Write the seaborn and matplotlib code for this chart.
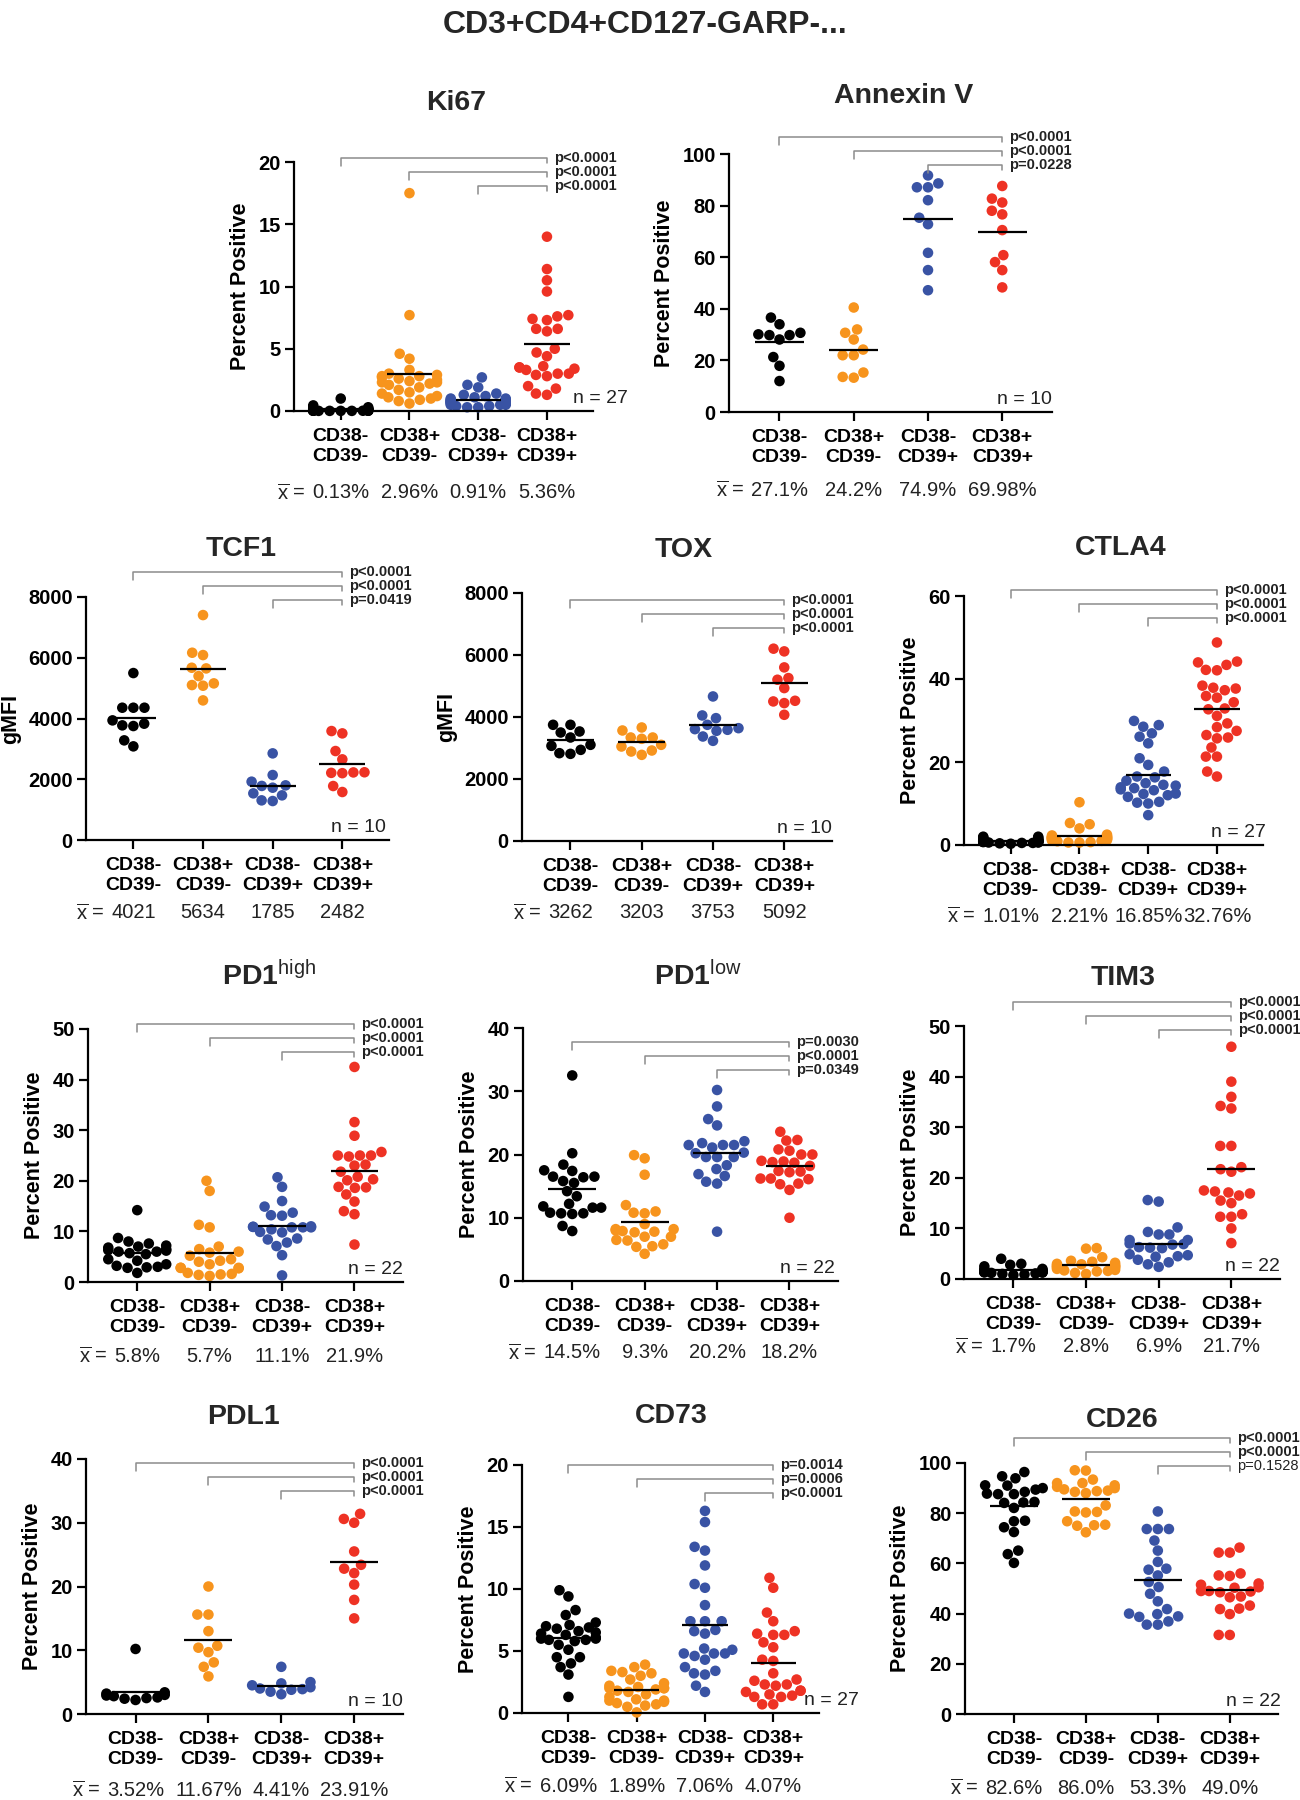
import warnings
import numpy as np
import pandas as pd
import matplotlib
matplotlib.use("Agg")
import matplotlib.pyplot as plt
import seaborn as sns

warnings.filterwarnings("ignore")

# categories and colours
groups = ["CD38-\nCD39-", "CD38+\nCD39-", "CD38-\nCD39+", "CD38+\nCD39+"]
colors = ["#000000", "#F7941D", "#3953A4", "#EE3224"]

# per-donor values (nn = CD38-CD39-, pn = CD38+CD39-, np = CD38-CD39+, pp = CD38+CD39+)
ki67_nn = [1.0, 0.45, 0.3, 0.25, 0.2, 0.2, 0.15, 0.15, 0.1, 0.1, 0.1, 0.1, 0.08, 0.05, 0.05, 0.05,
           0.05, 0.03, 0.03, 0.03, 0.02, 0.02, 0.02, 0.01, 0.01, 0.01, 0.01]
ki67_pn = [17.5, 7.7, 4.6, 4.2, 3.3, 3.0, 2.9, 2.8, 2.8, 2.7, 2.6, 2.5, 2.4, 2.3, 2.2, 2.3, 2.1,
           1.9, 1.7, 1.5, 1.4, 1.2, 1.1, 1.0, 0.9, 0.8, 0.6]
ki67_np = [2.7, 2.1, 1.9, 1.4, 1.3, 1.2, 1.1, 1.0, 1.0, 0.9, 0.9, 0.8, 0.8, 0.8, 0.7, 0.7, 0.7,
           0.6, 0.6, 0.6, 0.5, 0.5, 0.5, 0.4, 0.4, 0.3, 0.3]
ki67_pp = [14.0, 11.4, 10.5, 9.6, 7.7, 7.6, 7.4, 7.3, 6.6, 6.6, 6.4, 5.0, 4.7, 4.4, 3.6, 3.5, 3.5,
           3.4, 3.3, 3.0, 3.0, 2.9, 2.8, 2.0, 1.8, 1.4, 1.3]

anx_nn = [36.6, 34.0, 30.7, 29.8, 29.8, 30.1, 28.1, 21.3, 17.9, 12.0]
anx_pn = [40.5, 32.0, 30.7, 28.1, 24.2, 22.0, 22.0, 15.3, 13.6, 13.3]
anx_np = [91.7, 88.6, 87.1, 87.1, 82.1, 75.3, 72.8, 61.7, 55.0, 47.2]
anx_pp = [87.6, 82.7, 81.2, 78.0, 76.6, 70.5, 60.8, 58.1, 55.0, 48.3]

tcf1_nn = [5496, 4355, 4355, 4355, 3938, 3752, 3774, 3829, 3280, 3083]
tcf1_pn = [7405, 6165, 6088, 5671, 5649, 5397, 5156, 5101, 5079, 4596]
tcf1_np = [2852, 2139, 1920, 1722, 1799, 1780, 1536, 1470, 1305, 1283]
tcf1_pp = [3587, 3510, 2929, 2655, 2230, 2210, 2200, 2225, 1777, 1580]

tox_nn = [3748, 3748, 3500, 3533, 3339, 3102, 3070, 2940, 2833, 2811]
tox_pn = [3662, 3565, 3339, 3296, 3339, 3102, 3048, 2886, 2919, 2779]
tox_np = [4663, 3963, 4050, 3748, 3640, 3587, 3608, 3554, 3371, 3231]
tox_pp = [6117, 6204, 5600, 5256, 5202, 4933, 4523, 4448, 4502, 4071]

ctla4_nn = [2.0, 2.0, 1.8, 1.7, 1.5, 1.4, 1.3, 1.2, 1.2, 1.1, 1.1, 1.0, 1.0, 0.9, 0.9, 0.9, 0.8,
            0.8, 0.8, 0.7, 0.7, 0.6, 0.6, 0.5, 0.5, 0.4, 0.3]
ctla4_pn = [10.3, 5.3, 5.0, 4.0, 2.5, 2.3, 2.2, 2.0, 2.0, 1.9, 1.8, 1.7, 1.6, 1.5, 1.9, 1.8, 1.6,
            1.5, 1.4, 1.3, 1.2, 1.1, 1.0, 0.9, 0.7, 0.6, 0.6]
ctla4_np = [29.9, 28.9, 28.5, 26.9, 26.1, 24.5, 20.9, 19.3, 17.7, 16.5, 16.3, 15.5, 14.9, 14.5,
            14.3, 13.9, 13.7, 13.4, 13.2, 12.4, 12.3, 12.0, 11.6, 10.4, 10.2, 10.0, 7.2]
ctla4_pp = [48.8, 44.2, 44.0, 43.4, 42.2, 42.1, 38.4, 37.9, 37.7, 37.3, 35.5, 35.9, 34.4, 32.7,
            32.9, 31.1, 29.3, 28.4, 27.5, 26.5, 25.9, 25.7, 23.5, 21.3, 21.3, 17.7, 16.5]

pd1h_nn = [14.2, 8.7, 8.0, 7.6, 7.2, 7.0, 6.8, 6.3, 6.5, 6.2, 6.0, 6.0, 5.7, 5.5, 4.5, 4.2, 3.5,
           3.2, 3.0, 2.9, 2.8, 1.8]
pd1h_pn = [20.0, 18.0, 11.3, 10.8, 7.0, 6.5, 6.0, 5.8, 5.2, 4.5, 4.2, 4.0, 3.5, 2.8, 2.8, 2.8,
           2.7, 1.8, 1.6, 1.5, 1.4, 1.2]
pd1h_np = [20.7, 18.8, 16.0, 14.9, 13.7, 13.2, 13.1, 10.9, 10.8, 10.8, 11.0, 10.9, 10.8, 10.4,
           9.9, 9.8, 8.6, 8.4, 7.8, 7.1, 5.3, 1.3]
pd1h_pp = [42.5, 31.6, 28.9, 25.7, 25.0, 25.0, 24.8, 25.0, 23.2, 23.0, 21.8, 20.3, 20.8, 20.1,
           18.8, 18.6, 18.7, 17.3, 15.9, 14.0, 13.4, 7.4]

pd1l_nn = [32.5, 20.2, 18.4, 17.5, 17.4, 16.5, 16.4, 16.5, 15.8, 15.5, 14.2, 13.4, 12.2, 11.8,
           11.6, 11.6, 10.8, 10.7, 10.6, 10.7, 8.7, 7.9]
pd1l_pn = [19.9, 19.4, 16.8, 12.0, 11.0, 10.7, 10.8, 9.0, 8.2, 8.2, 8.0, 7.9, 7.8, 7.7, 7.0, 7.0,
           6.5, 6.4, 5.8, 5.5, 5.4, 4.3]
pd1l_np = [30.2, 27.6, 25.6, 24.6, 22.1, 21.8, 21.5, 21.5, 21.5, 21.1, 20.2, 20.3, 19.6, 19.6,
           19.6, 18.3, 17.7, 16.9, 16.6, 15.7, 15.4, 7.8]
pd1l_pp = [23.6, 22.3, 22.2, 20.6, 20.8, 20.0, 20.0, 19.0, 18.9, 18.8, 18.7, 18.2, 17.3, 17.4,
           17.2, 16.2, 16.2, 16.1, 15.4, 15.3, 14.4, 10.0]

tim3_nn = [4.0, 3.0, 2.8, 2.5, 2.0, 1.9, 1.8, 1.7, 1.6, 1.5, 1.5, 1.4, 1.4, 1.4, 1.3, 1.3, 1.3,
           1.2, 1.1, 1.0, 0.9, 0.8]
tim3_pn = [6.1, 6.0, 4.3, 3.6, 3.4, 3.2, 3.0, 2.9, 2.8, 2.7, 2.6, 2.5, 2.4, 2.3, 2.2, 2.0, 1.8,
           1.7, 1.6, 1.5, 1.2, 1.0]
tim3_np = [15.6, 15.3, 10.2, 9.3, 8.8, 8.8, 7.7, 7.7, 7.0, 6.9, 6.8, 6.2, 6.3, 6.1, 4.7, 4.4,
           4.5, 4.9, 3.8, 3.3, 2.9, 2.4]
tim3_pp = [45.9, 39.0, 36.0, 34.2, 33.7, 26.3, 26.3, 22.1, 21.7, 21.2, 17.5, 17.3, 17.1, 16.9,
           16.5, 15.5, 15.0, 12.8, 12.3, 12.3, 10.0, 7.1]

pdl1_nn = [10.2, 3.4, 3.2, 3.0, 2.9, 2.8, 2.6, 2.4, 2.2, 2.5]
pdl1_pn = [20.0, 15.6, 15.6, 13.0, 10.7, 10.4, 9.7, 8.1, 7.4, 5.9]
pdl1_np = [7.4, 5.0, 4.8, 4.5, 4.2, 4.0, 3.9, 3.8, 3.5, 3.1]
pdl1_pp = [31.4, 30.6, 30.0, 25.5, 23.4, 22.8, 22.1, 20.3, 17.9, 15.0]

cd73_nn = [9.9, 9.4, 8.3, 7.9, 7.3, 7.1, 7.0, 6.9, 6.8, 6.6, 6.5, 6.4, 6.3, 6.1, 6.0, 6.0, 5.9,
           5.9, 5.8, 5.5, 5.1, 4.5, 4.5, 4.0, 3.7, 3.1, 1.3]
cd73_pn = [3.9, 3.7, 3.4, 3.3, 3.2, 3.0, 2.7, 2.4, 2.2, 2.1, 2.0, 2.0, 1.9, 1.8, 1.7, 2.0, 1.5,
           1.3, 1.1, 1.0, 1.0, 0.9, 0.8, 0.7, 0.6, 0.5, 0.05]
cd73_np = [16.3, 15.4, 13.4, 13.1, 11.9, 10.4, 10.1, 8.7, 7.4, 7.4, 7.4, 6.7, 6.4, 6.6, 5.2, 5.1,
           4.8, 4.8, 4.8, 4.6, 4.3, 3.7, 3.4, 3.2, 3.1, 2.2, 1.7]
cd73_pp = [10.9, 10.1, 8.1, 7.4, 6.6, 6.4, 6.3, 6.3, 5.7, 5.3, 4.3, 4.2, 3.2, 2.7, 2.6, 2.3, 2.3,
           2.2, 1.8, 1.8, 1.7, 1.5, 1.4, 1.3, 1.3, 0.7, 0.7]

cd26_nn = [96.4, 94.7, 93.9, 91.1, 91.0, 90.0, 89.4, 88.5, 87.8, 87.6, 87.6, 84.5, 84.3, 84.1,
           82.1, 77.0, 76.8, 74.4, 72.5, 65.1, 63.7, 60.2]
cd26_pn = [97.1, 97.0, 93.4, 92.0, 92.0, 91.1, 90.5, 90.0, 89.5, 89.0, 88.8, 88.5, 88.0, 83.1,
           80.7, 80.5, 80.3, 76.8, 75.4, 75.2, 75.0, 72.4]
cd26_np = [80.7, 73.7, 73.7, 73.7, 69.1, 65.1, 60.6, 57.9, 57.5, 55.2, 52.6, 50.6, 47.9, 44.9,
           41.8, 40.0, 39.8, 38.9, 38.7, 36.9, 35.6, 35.6]
cd26_pp = [66.3, 64.3, 64.3, 56.0, 55.2, 55.0, 51.5, 52.0, 50.3, 50.5, 49.0, 49.0, 48.8, 48.5,
           46.8, 46.5, 43.2, 42.0, 41.8, 39.8, 31.5, 31.5]

# panel texts
titles = ["Ki67", "Annexin V", "TCF1", "TOX", "CTLA4", r"PD1$^{\mathrm{high}}$",
          r"PD1$^{\mathrm{low}}$", "TIM3", "PDL1", "CD73", "CD26"]
ylabels = ["Percent Positive", "Percent Positive", "gMFI", "gMFI", "Percent Positive",
           "Percent Positive", "Percent Positive", "Percent Positive", "Percent Positive",
           "Percent Positive", "Percent Positive"]
ymax = [20, 100, 8000, 8000, 60, 50, 40, 50, 40, 20, 100]
ystep = [5, 20, 2000, 2000, 20, 10, 10, 10, 10, 5, 20]
n_donors = [27, 10, 10, 10, 27, 22, 22, 22, 10, 27, 22]
pvals = [["p<0.0001", "p<0.0001", "p<0.0001"],
         ["p<0.0001", "p<0.0001", "p=0.0228"],
         ["p<0.0001", "p<0.0001", "p=0.0419"],
         ["p<0.0001", "p<0.0001", "p<0.0001"],
         ["p<0.0001", "p<0.0001", "p<0.0001"],
         ["p<0.0001", "p<0.0001", "p<0.0001"],
         ["p=0.0030", "p<0.0001", "p=0.0349"],
         ["p<0.0001", "p<0.0001", "p<0.0001"],
         ["p<0.0001", "p<0.0001", "p<0.0001"],
         ["p=0.0014", "p=0.0006", "p<0.0001"],
         ["p<0.0001", "p<0.0001", "p=0.1528"]]
mean_labels = [["0.13%", "2.96%", "0.91%", "5.36%"],
               ["27.1%", "24.2%", "74.9%", "69.98%"],
               ["4021", "5634", "1785", "2482"],
               ["3262", "3203", "3753", "5092"],
               ["1.01%", "2.21%", "16.85%", "32.76%"],
               ["5.8%", "5.7%", "11.1%", "21.9%"],
               ["14.5%", "9.3%", "20.2%", "18.2%"],
               ["1.7%", "2.8%", "6.9%", "21.7%"],
               ["3.52%", "11.67%", "4.41%", "23.91%"],
               ["6.09%", "1.89%", "7.06%", "4.07%"],
               ["82.6%", "86.0%", "53.3%", "49.0%"]]

panel_data = [[ki67_nn, ki67_pn, ki67_np, ki67_pp],
              [anx_nn, anx_pn, anx_np, anx_pp],
              [tcf1_nn, tcf1_pn, tcf1_np, tcf1_pp],
              [tox_nn, tox_pn, tox_np, tox_pp],
              [ctla4_nn, ctla4_pn, ctla4_np, ctla4_pp],
              [pd1h_nn, pd1h_pn, pd1h_np, pd1h_pp],
              [pd1l_nn, pd1l_pn, pd1l_np, pd1l_pp],
              [tim3_nn, tim3_pn, tim3_np, tim3_pp],
              [pdl1_nn, pdl1_pn, pdl1_np, pdl1_pp],
              [cd73_nn, cd73_pn, cd73_np, cd73_pp],
              [cd26_nn, cd26_pn, cd26_np, cd26_pp]]

# layout in output pixels: axes box (left, top, right, bottom), title anchor, bracket top, n label x
W, H = 1300, 1800
boxes = [(294, 162, 593, 411), (729, 154, 1052, 412),
         (86, 597, 389, 840), (522, 593, 832, 841), (964, 596, 1263, 845),
         (88, 1029, 403, 1282), (523, 1028, 838, 1281), (964, 1026, 1280, 1279),
         (86, 1459, 403, 1714), (522, 1465, 819, 1713), (965, 1463, 1278, 1714)]
title_xy = [(456, 110), (904, 103), (241, 556), (684, 557), (1121, 555), (269, 985),
            (698, 985), (1123, 985), (243, 1424), (671, 1423), (1122, 1427)]
bracket_px = [158, 137, 572, 600, 590, 1024, 1042, 1002, 1463, 1465, 1438]
n_x = [1.117, 1.0, 0.99, 1.0, 1.01, 1.0, 0.99, 1.0, 1.0, 1.135, 1.01]
mean_off = [82, 78, 73, 72, 71, 74, 72, 68, 76, 73, 74]

sns.set_style("ticks")
plt.rcParams["font.family"] = ["Liberation Sans", "DejaVu Sans"]
plt.rcParams["mathtext.fontset"] = "custom"
plt.rcParams["mathtext.rm"] = "Liberation Sans"
plt.rcParams["mathtext.it"] = "Liberation Sans:italic"
plt.rcParams["mathtext.bf"] = "Liberation Sans:bold"

fig = plt.figure(figsize=(13, 18), dpi=100)
fig.text(645 / W, 1 - 33 / H, "CD3+CD4+CD127-GARP-...", ha="center", va="baseline",
         fontsize=23, fontweight="bold")

text_jobs = []
for k in range(len(titles)):
    l, t, r, b = boxes[k]
    hpx = b - t
    ax = fig.add_axes([l / W, 1 - b / H, (r - l) / W, hpx / H])
    values = panel_data[k]
    df = pd.DataFrame({"group": np.repeat(groups, [len(v) for v in values]),
                       "value": np.concatenate(values)})
    sns.swarmplot(data=df, x="group", y="value", hue="group", order=groups, hue_order=groups,
                  palette=colors, size=7.6, ax=ax, legend=False, zorder=2)
    for c in ax.collections:
        c.set_clip_on(False)
    for i, v in enumerate(values):
        ax.hlines(np.mean(v), i - 0.33, i + 0.33, color="black", lw=1.6, zorder=4)

    ax.set_xlim(-0.68, 3.67)
    ax.set_ylim(0, ymax[k])
    ax.set_yticks(np.arange(0, ymax[k] + ystep[k] / 2, ystep[k]))
    ax.set_xticks(range(4))
    ax.set_xticklabels(groups, fontsize=14, fontweight="bold", linespacing=1.2)
    ax.tick_params(axis="y", labelsize=14.5, pad=3)
    ax.tick_params(axis="x", pad=6)
    for lbl in ax.get_yticklabels():
        lbl.set_fontweight("bold")
    ax.tick_params(axis="both", length=6.5, width=1.6, colors="black")
    ax.set_xlabel("")
    ax.set_ylabel(ylabels[k], fontsize=15.5, fontweight="bold", labelpad=5, color="black")
    sns.despine(ax=ax)
    for s in ["left", "bottom"]:
        ax.spines[s].set_linewidth(1.6)
        ax.spines[s].set_color("black")

    fig.text(title_xy[k][0] / W, 1 - title_xy[k][1] / H, titles[k], ha="center",
             va="baseline", fontsize=20.5, fontweight="bold")

    # significance brackets against CD38+CD39+
    tr = ax.get_xaxis_transform()
    for j in range(3):
        y = (b - (bracket_px[k] + j * 14)) / hpx
        dl, dr = 8 / hpx, 5 / hpx
        ax.plot([j, j, 3, 3], [y - dl, y, y, y - dr], color="#8c8c8c", lw=1.1,
                transform=tr, clip_on=False)
        p = pvals[k][j]
        bold = float(p[2:]) < 0.05
        ax.annotate(p, xy=(3, y), xycoords=tr, xytext=(5, 0), textcoords="offset points",
                    ha="left", va="center", fontsize=10.5, color="#222222",
                    fontweight="bold" if bold else "normal", annotation_clip=False)

    ax.text(n_x[k], 0.015, "n = %d" % n_donors[k], transform=ax.transAxes, ha="right",
            va="bottom", fontsize=14, color="#222222")

    for i, m in enumerate(mean_labels[k]):
        t_obj = ax.annotate(m, xy=(i, 0), xycoords=tr, xytext=(0, -mean_off[k] * 0.72),
                            textcoords="offset points", ha="center", va="center",
                            fontsize=14.5, color="#222222", annotation_clip=False)
        if i == 0:
            text_jobs.append(t_obj)

# "x̄ =" placed just left of the first mean value in each panel
renderer = fig.canvas.get_renderer()
for t_obj in text_jobs:
    bb = t_obj.get_window_extent(renderer)
    fig.text((bb.x0 - 7) / W, (bb.y0 + bb.height / 2) / H, r"$\overline{\mathrm{x}}$ =",
             ha="right", va="center", fontsize=14.5, color="#222222")

fig.savefig("out.png", dpi=100)
